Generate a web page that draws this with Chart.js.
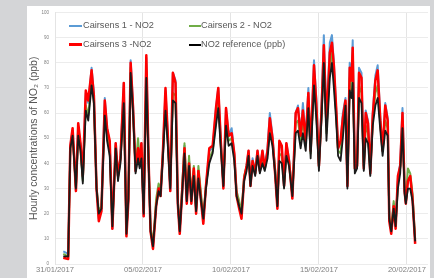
<!DOCTYPE html>
<html>
<head>
<meta charset="utf-8">
<script src="https://cdn.jsdelivr.net/npm/chart.js@4"></script>
<style>
  body { margin: 0; width: 434px; height: 278px; overflow: hidden; position: relative; background: #d4d5d7; font-family: "Liberation Sans", Arial, sans-serif; }
  #panel { position: absolute; left: 27px; top: 6px; width: 403px; height: 272px; background: #fff; }
  #chart { position: absolute; left: 0; top: 0; }
  .leg { position: absolute; font-size: 9.2px; color: #595959; white-space: nowrap; line-height: 11px; }
</style>
</head>
<body>
<div id="panel"></div>
<canvas id="chart" width="434" height="278"></canvas>
<div id="legend"></div>
<script>
// jours depuis le 31/01/2017 (valeurs horaires)
const days = [0.47, 0.75, 0.87, 1.00, 1.19, 1.32, 1.45, 1.58, 1.75, 1.89, 2.08, 2.21, 2.36, 2.49, 2.64, 2.83, 2.96, 3.11, 3.26, 3.45,
    3.58, 3.72, 3.91, 4.06, 4.17, 4.30, 4.43, 4.58, 4.72, 4.81, 4.91, 5.04, 5.19, 5.32, 5.43, 5.57, 5.75, 5.89, 6.00, 6.13,
    6.28, 6.42, 6.55, 6.70, 6.85, 6.98, 7.09, 7.23, 7.36, 7.49, 7.62, 7.75, 7.89, 8.02, 8.15, 8.30, 8.43, 8.58, 8.77, 8.96,
    9.15, 9.28, 9.43, 9.57, 9.72, 9.87, 10.04, 10.19, 10.32, 10.47, 10.60, 10.75, 10.89, 11.00, 11.11, 11.23, 11.38, 11.51, 11.64, 11.79,
    11.92, 12.08, 12.21, 12.36, 12.51, 12.64, 12.75, 12.89, 13.02, 13.15, 13.30, 13.49, 13.68, 13.81, 13.96, 14.09, 14.25, 14.40, 14.53, 14.72,
    14.85, 15.00, 15.15, 15.28, 15.43, 15.62, 15.74, 15.85, 15.98, 16.09, 16.23, 16.36, 16.51, 16.62, 16.75, 16.85, 16.92, 17.04, 17.17, 17.28,
    17.42, 17.55, 17.66, 17.79, 17.92, 18.06, 18.21, 18.34, 18.49, 18.62, 18.77, 18.91, 19.00, 19.11, 19.25, 19.36, 19.49, 19.62, 19.75, 19.87,
    19.94, 20.06, 20.19, 20.32, 20.47];

const cairsens1 = [5, 4, 47, 53, 29, 55, 47, 34, 68, 64, 78, 68, 31, 18, 22, 66, 54, 48, 14, 48,
    35, 43, 72, 12, 26, 81, 64, 37, 46, 41, 48, 19, 82, 42, 14, 7, 24, 30, 28, 44,
    69, 50, 29, 76, 73, 25, 13, 30, 47, 25, 41, 25, 37, 21, 37, 26, 17, 31, 45, 46,
    62, 70, 48, 31, 62, 51, 54, 44, 28, 23, 19, 34, 39, 45, 32, 42, 37, 45, 38, 45,
    39, 46, 60, 51, 37, 23, 48, 46, 31, 48, 42, 27, 60, 63, 52, 64, 50, 70, 45, 81,
    66, 40, 63, 91, 56, 88, 91, 80, 62, 46, 48, 60, 66, 31, 80, 74, 89, 39, 40, 78,
    76, 39, 61, 57, 37, 60, 75, 79, 58, 45, 64, 58, 18, 13, 24, 15, 34, 40, 62, 29,
    25, 34, 34, 27, 9];

const cairsens2 = [4, 3, 46, 52, 30, 52, 46, 33, 63, 59, 73, 65, 31, 21, 23, 61, 51, 45, 15, 47,
    35, 42, 67, 13, 27, 78, 62, 38, 50, 42, 46, 21, 77, 41, 15, 8, 26, 32, 29, 44,
    64, 48, 31, 68, 67, 26, 14, 31, 48, 27, 43, 27, 39, 22, 39, 28, 19, 31, 42, 45,
    57, 65, 47, 32, 57, 49, 50, 43, 29, 25, 21, 35, 39, 44, 33, 41, 37, 44, 38, 42,
    39, 44, 55, 49, 38, 24, 44, 43, 32, 45, 41, 28, 56, 57, 49, 57, 48, 65, 44, 75,
    61, 39, 60, 84, 52, 79, 84, 74, 60, 45, 44, 54, 64, 32, 74, 69, 78, 38, 39, 71,
    68, 39, 55, 52, 37, 57, 68, 71, 56, 45, 57, 54, 19, 14, 25, 16, 33, 38, 57, 30,
    26, 38, 36, 28, 10];

const cairsens3 = [2.5, 2, 47, 54, 29, 56, 48, 35, 69, 65, 77, 67, 30, 17, 21, 65, 54, 49, 14, 48,
    35, 42, 72, 11, 25, 80, 63, 37, 46, 40, 48, 19, 83, 41, 13, 6, 23, 30, 27, 44,
    70, 50, 29, 76, 72, 24, 12, 29, 46, 24, 40, 24, 38, 20, 37, 25, 16, 31, 46, 47,
    62, 70, 48, 30, 62, 51, 52, 44, 27, 22, 18, 34, 39, 45, 31, 41, 36, 45, 37, 45,
    38, 45, 58, 50, 36, 22, 49, 47, 31, 48, 41, 26, 60, 62, 51, 61, 49, 68, 45, 79,
    64, 39, 61, 87, 55, 84, 88, 79, 62, 46, 49, 58, 65, 31, 78, 73, 86, 38, 39, 76,
    74, 38, 60, 56, 36, 59, 73, 77, 57, 45, 63, 57, 17, 12, 23, 14, 35, 39, 60, 29,
    24, 33, 35, 26, 8];

const no2Reference = [3, 3, 46, 51, 30, 51, 45, 32, 61, 57, 71, 64, 30, 20, 22, 59, 49, 43, 15, 46,
    33, 40, 64, 12, 26, 76, 61, 36, 42, 38, 42, 20, 74, 40, 13, 7, 23, 29, 27, 42,
    61, 46, 30, 65, 64, 24, 13, 28, 44, 25, 39, 25, 35, 21, 34, 25, 18, 30, 40, 44,
    55, 62, 45, 31, 55, 47, 48, 41, 27, 23, 20, 33, 37, 43, 31, 39, 35, 43, 36, 40,
    37, 42, 52, 47, 36, 23, 41, 40, 30, 43, 39, 27, 52, 53, 46, 52, 45, 62, 42, 71,
    58, 37, 58, 80, 49, 74, 80, 70, 57, 43, 41, 50, 63, 30, 69, 66, 72, 36, 38, 66,
    64, 37, 50, 48, 35, 55, 63, 66, 53, 43, 53, 51, 18, 13, 22, 15, 30, 36, 54, 28,
    24, 30, 30, 25, 9];

const tickDays = [0, 5, 10, 15, 20];
const tickLabels = ['31/01/2017', '05/02/2017', '10/02/2017', '15/02/2017', '20/02/2017'];

const seriesNames = ['Cairsens 1 - NO2', 'Cairsens 2 - NO2', 'Cairsens 3 -NO2', 'NO2 reference (ppb)'];
const seriesColors = ['#5b9bd5', '#70ad47', '#ff0000', '#000000'];

function toPoints(values) {
    return values.map((v, i) => ({ x: days[i], y: v }));
}

// légende en HTML, deux colonnes dans le haut du graphique
function renderLegend() {
    const spots = [
        { lx: 69, lw: 13, tx: 83, y: 20 },
        { lx: 189, lw: 12, tx: 201, y: 20 },
        { lx: 69, lw: 13, tx: 83, y: 39 },
        { lx: 189, lw: 12, tx: 201, y: 39 }
    ];
    const box = document.getElementById('legend');
    seriesNames.forEach((name, i) => {
        const s = spots[i];
        const line = document.createElement('div');
        const h = i === 2 ? 3 : 2;
        line.style.cssText = `position:absolute;left:${s.lx}px;top:${s.y + 5.5 - h / 2}px;width:${s.lw}px;height:${h}px;background:${seriesColors[i]}`;
        box.appendChild(line);
        const txt = document.createElement('div');
        txt.className = 'leg';
        txt.style.left = s.tx + 'px';
        txt.style.top = s.y + 'px';
        txt.textContent = name;
        box.appendChild(txt);
    });
}

const ctx = document.getElementById('chart').getContext('2d');
new Chart(ctx, {
    type: 'line',
    data: {
        datasets: [
            { label: seriesNames[0], data: toPoints(cairsens1), borderColor: seriesColors[0], borderWidth: 2, order: 4 },
            { label: seriesNames[1], data: toPoints(cairsens2), borderColor: seriesColors[1], borderWidth: 2, order: 3 },
            { label: seriesNames[2], data: toPoints(cairsens3), borderColor: seriesColors[2], borderWidth: 2.5, order: 2 },
            { label: seriesNames[3], data: toPoints(no2Reference), borderColor: '#1a1a1a', borderWidth: 1.8, order: 1 }
        ]
    },
    options: {
        responsive: false,
        animation: false,
        devicePixelRatio: 1,
        elements: { point: { radius: 0 }, line: { tension: 0, borderJoinStyle: 'round' } },
        layout: { padding: { left: 25, right: 6, top: 12.5, bottom: 0 } },
        plugins: { legend: { display: false }, tooltip: { enabled: false } },
        scales: {
            x: {
                type: 'linear',
                min: 0,
                max: 21.2,
                afterBuildTicks: scale => { scale.ticks = tickDays.map(v => ({ value: v })); },
                afterFit: scale => { scale.height = 14; },
                ticks: {
                    autoSkip: false,
                    maxRotation: 0,
                    padding: 1,
                    color: '#7f7f7f',
                    font: { family: 'Liberation Sans', size: 7.6 },
                    callback: value => tickLabels[tickDays.indexOf(value)]
                },
                grid: { color: '#e4e4e4', drawTicks: false },
                border: { display: false }
            },
            y: {
                min: 0,
                max: 100,
                afterFit: scale => { scale.width = 30; },
                ticks: {
                    stepSize: 10,
                    padding: 6,
                    color: '#7f7f7f',
                    font: { family: 'Liberation Sans', size: 4.5 }
                },
                grid: { color: '#ececec', drawTicks: false },
                border: { color: '#e4e4e4' },
                title: {
                    display: true,
                    text: 'Hourly concentrations of NO₂ (ppb)',
                    color: '#595959',
                    padding: { top: 3, bottom: 0 },
                    font: { family: 'Liberation Sans', size: 10.5 }
                }
            }
        }
    }
});

renderLegend();
</script>
</body>
</html>
